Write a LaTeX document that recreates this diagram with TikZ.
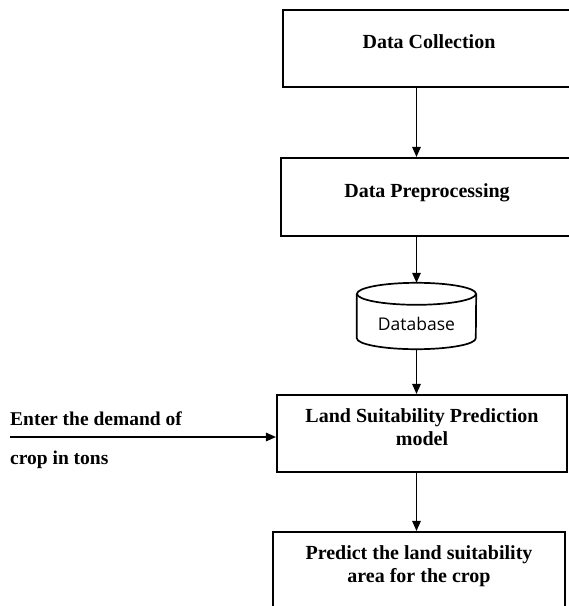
\documentclass[tikz,border=0pt]{standalone}
\usepackage{fontspec}
\setmainfont{Liberation Serif}
\newfontfamily\dbfont{Open Sans}
\usetikzlibrary{arrows.meta}
\begin{document}
\begin{tikzpicture}[x=1pt,y=-1pt,
  box/.style={draw, line width=2.1pt, rectangle, inner sep=0pt, minimum height=77pt,
    font=\fontsize{20}{22.5}\selectfont\bfseries},
  oneline/.style={text height=13pt, text depth=13pt},
  twoline/.style={text height=13pt, text depth=35pt},
  arr/.style={line width=1.4pt, -{Triangle[length=10pt,width=8.5pt]}},
  lbl/.style={inner sep=0pt, font=\fontsize{19.5}{22.5}\selectfont\bfseries},
  dbline/.style={line width=1.7pt}]
\useasboundingbox (0,0) rectangle (569,606);
\clip (0,0) rectangle (569,606);
% boxes
\node[box, oneline, minimum width=292pt] (b1) at (429,48.5)
  {\begin{tabular}[t]{@{}c@{}}Data Collection\end{tabular}};
\node[box, oneline, minimum width=292pt, minimum height=78pt] (b2) at (427,197)
  {\begin{tabular}[t]{@{}c@{}}Data Preprocessing\end{tabular}};
\node[box, twoline, minimum width=290pt] (b3) at (422,433.5)
  {\begin{tabular}[t]{@{}c@{}}Land Suitability Prediction\\model\end{tabular}};
\node[box, twoline, minimum width=292pt] (b4) at (419,570.5)
  {\begin{tabular}[t]{@{}c@{}}Predict the land suitability\\area for the crop\end{tabular}};
% database cylinder
\node[inner sep=0pt, minimum width=119pt, minimum height=66pt,
  font=\dbfont\fontsize{17.5}{20}\selectfont, text height=28pt, text depth=0pt]
  (db) at (416.5,316) {Database};
\coordinate (dbt) at ([yshift=-11pt]db.north);
\coordinate (dbb) at ([yshift=11pt]db.south);
\draw[dbline] (dbt) ellipse [x radius=59.5pt, y radius=11pt];
\draw[dbline] (dbt -| db.west) -- (dbb -| db.west)
  arc[start angle=180, end angle=360, x radius=59.5pt, y radius=11pt]
  -- (dbt -| db.east);
% input text
\node[lbl, anchor=base west] (t1) at (10,425) {Enter the demand of};
\node[lbl, anchor=base west] (t2) at (10,464) {crop in tons};
\coordinate (src) at (10,437);
% connectors
\draw[arr] (b1.south -| db.center) -- (b2.north -| db.center);
\draw[arr] (b2.south -| db.center) -- (db.north);
\draw[arr] (db.south) -- (b3.north -| db.center);
\draw[arr] (b3.south -| db.center) -- (b4.north -| db.center);
\draw[arr] (src) -- (src -| b3.west);
\end{tikzpicture}
\end{document}
